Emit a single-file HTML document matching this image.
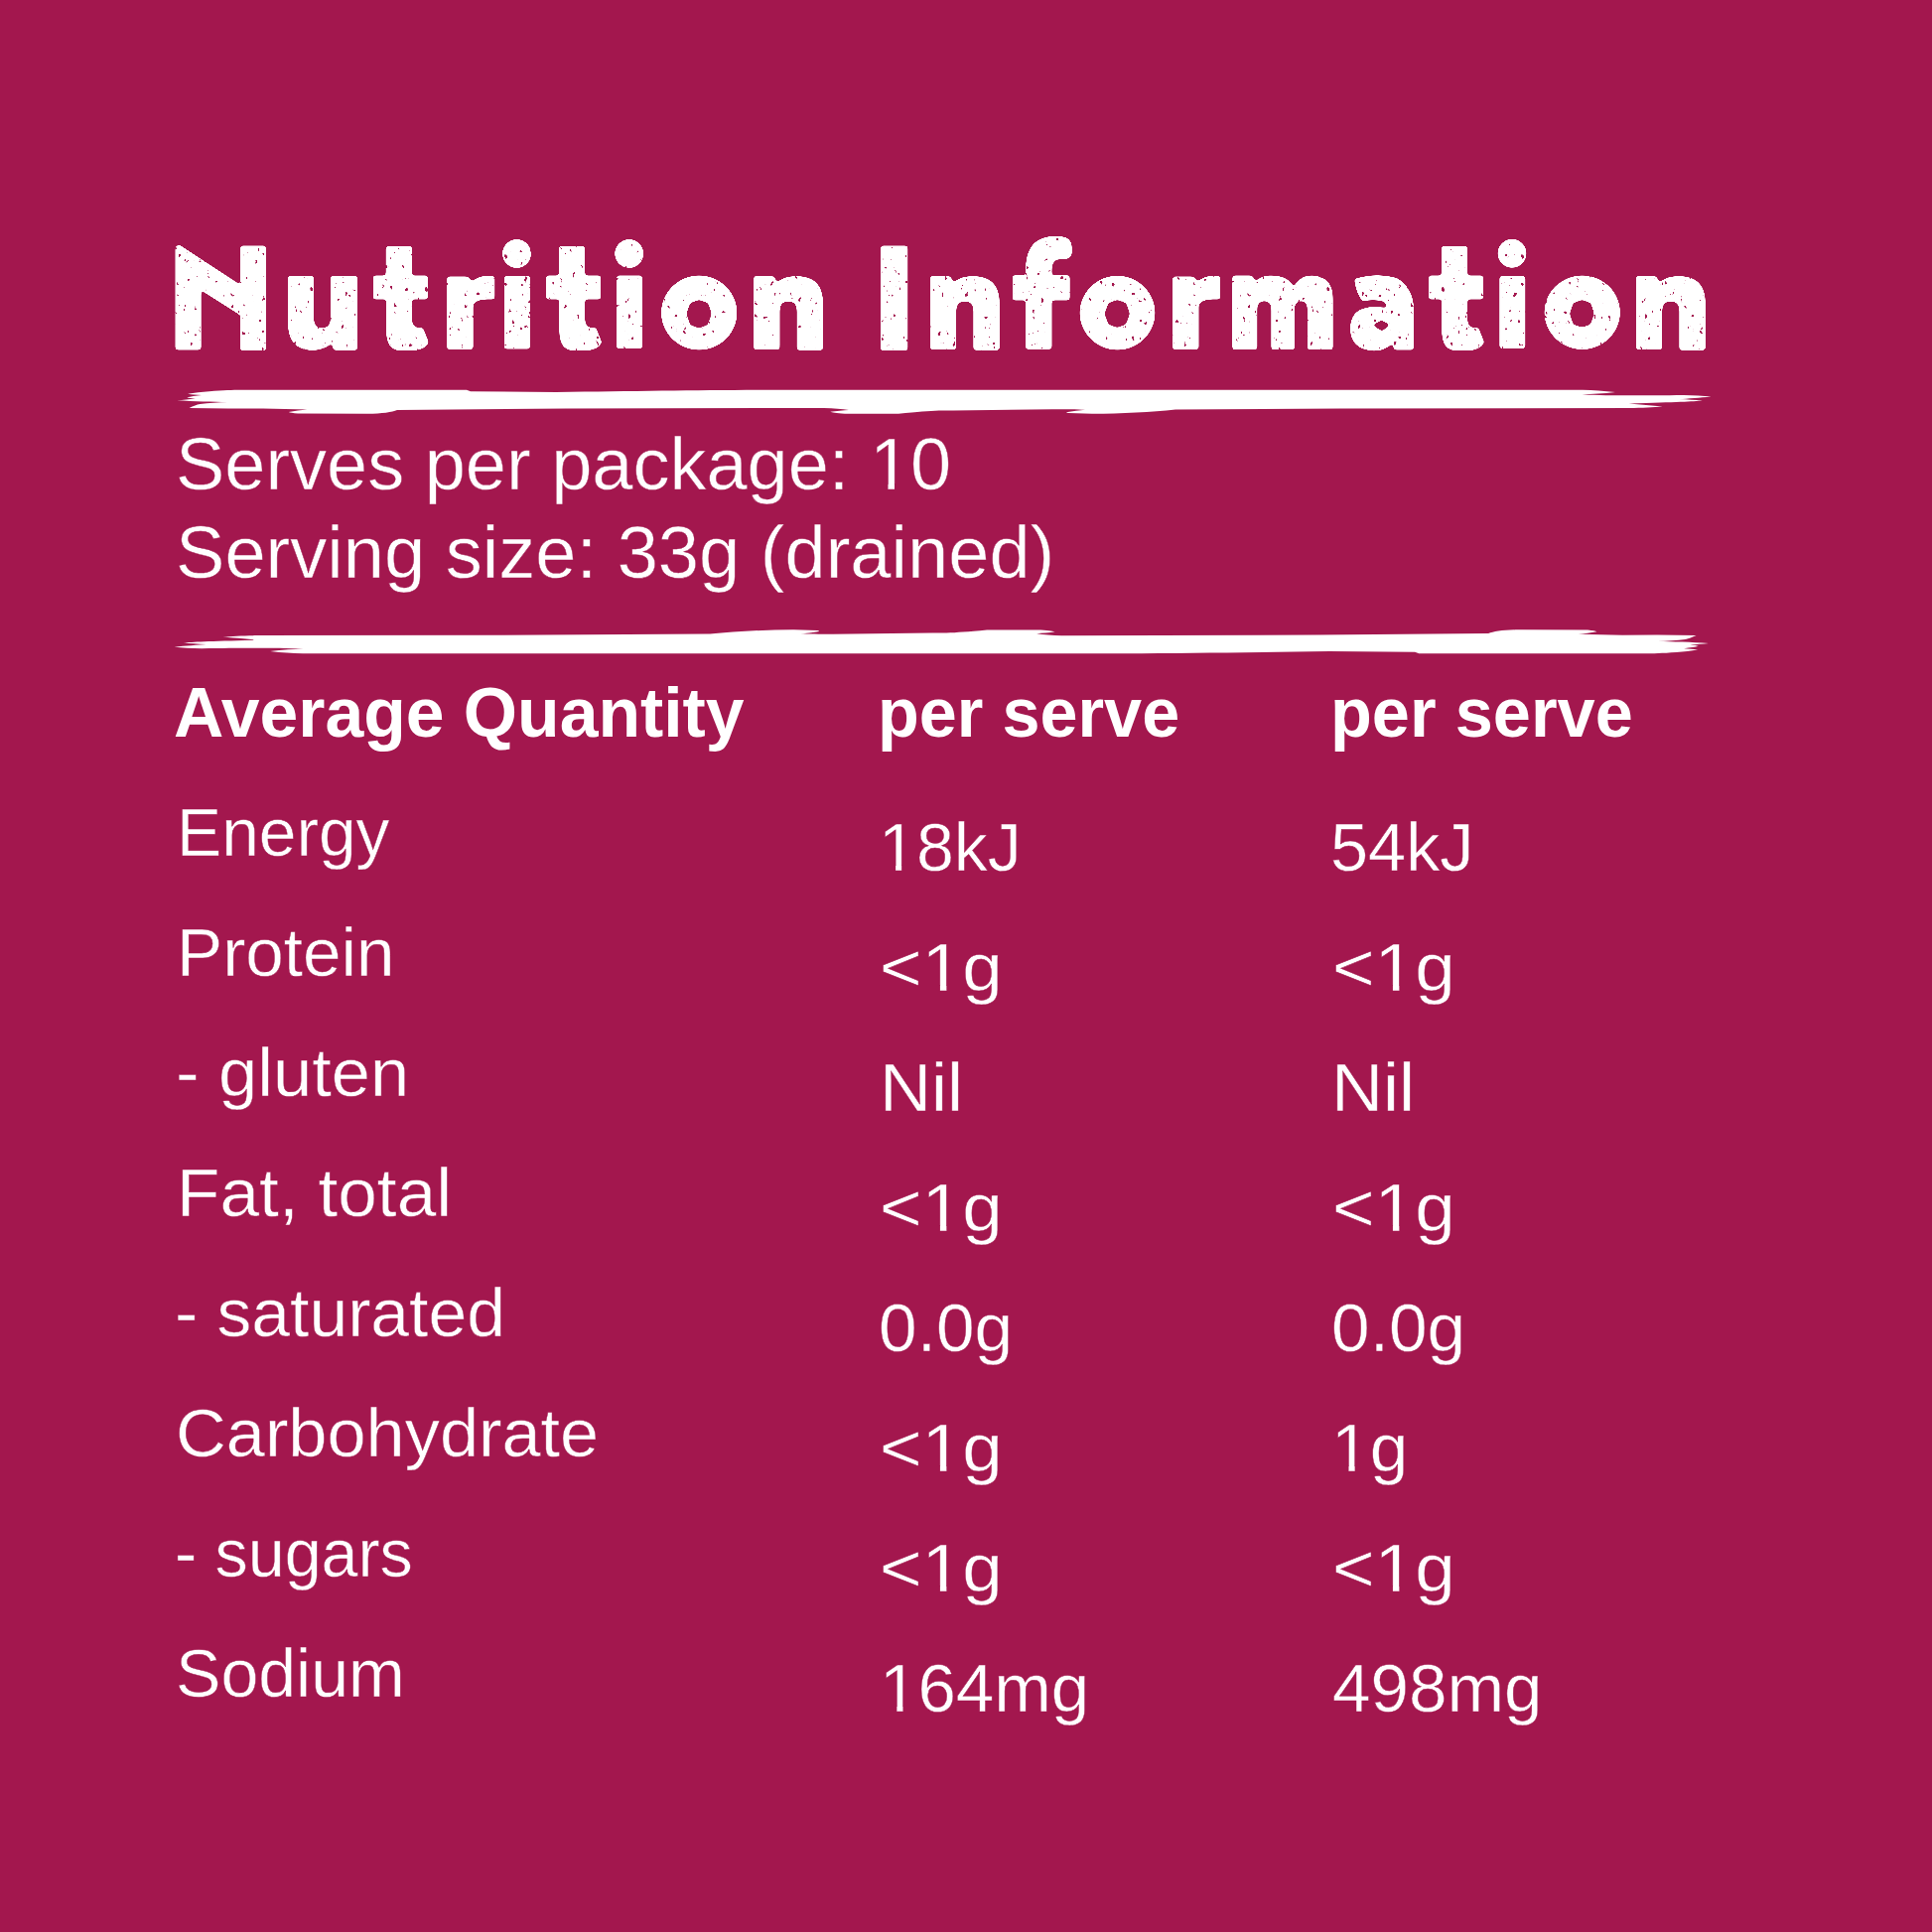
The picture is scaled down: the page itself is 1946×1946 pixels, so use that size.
<!DOCTYPE html>
<html><head><meta charset="utf-8">
<style>
html,body{margin:0;padding:0;}
body{width:1946px;height:1946px;background:#A3174E;position:relative;overflow:hidden;font-family:"Liberation Sans",sans-serif;color:#fff;}
.t{position:absolute;white-space:pre;line-height:1;transform-origin:0 0;-webkit-text-stroke:0.45px #A3174E;}
.t.b{-webkit-text-stroke:0;}
.b{font-weight:700;}
.one{display:inline-block;clip-path:polygon(0 0,100% 0,100% 76%,61.1% 76%,61.1% 100%,45.2% 100%,45.2% 76%,0 76%);}
svg{position:absolute;left:0;top:0;}
</style></head><body>
<svg width="1946" height="1946" viewBox="0 0 1946 1946">
<defs>
<filter id="rnd" color-interpolation-filters="sRGB" x="0" y="0" width="1946" height="1946" filterUnits="userSpaceOnUse">
<feGaussianBlur in="SourceGraphic" stdDeviation="1.6" result="b"/>
<feComponentTransfer in="b" result="shape"><feFuncA type="linear" slope="12" intercept="-5.5"/></feComponentTransfer>
<feTurbulence type="fractalNoise" baseFrequency="0.25 0.18" numOctaves="2" seed="7" result="noise"/>
<feColorMatrix in="noise" type="matrix" values="0 0 0 0 0  0 0 0 0 0  0 0 0 0 0  -30 0 0 0 22.6" result="keep"/>
<feComposite in="shape" in2="keep" operator="in"/>
</filter>
<path id="brush" d="M178.2,403.2 C185,402.6 190,402.2 196.8,401.4 C193,401.2 190,401 188.3,400.3 C192,399.4 197,398.6 203,397.9 C198,397.6 193,397.4 189.1,396.8 C196,395.5 203,394.6 210.8,394.2 C225,393.2 235,392.9 242,392.8 L470,392.8 L474,394.3 L560,395 C640,394 700,393.2 767,392.8 L1594,392.8 C1605,393 1615,393.8 1627,395.1 C1615,396.5 1603,397 1593.6,397.5 C1620,398.5 1650,398.6 1696,397.9 C1706,398 1715,398.6 1723.6,399.4 C1712,400.6 1700,401.4 1691.4,402.1 C1700,402.6 1708,403 1714.7,403.6 C1705,404.6 1690,405.2 1640.6,406.5 C1652,407.6 1664,408.6 1674.7,409.5 C1665,410.4 1655,410.9 1640,411 L1350,411.5 L1184,412.5 C1160,415 1130,416.8 1100,416.8 L1076,416 C1075,415.8 1074.5,415.5 1074,415.2 C1080,414.2 1088,413.2 1093,412.8 C1085,412.5 1075,412.3 1060,412.3 L960,413.5 L945.8,413.6 C935,414.2 925,414.8 905,416.7 L851,416.7 C842,416 838,415.5 836.3,414.8 C842,413.8 850,413.2 855,412.9 C848,411.8 840,411.2 830,410.9 L570,411.5 L400,413 C395,415 385,416.8 370,416.8 L300,416.5 C295,416 292,415.5 290.8,414.9 C297,413.8 303,413 309.4,412.6 C295,412 280,411.6 265,411.4 L230,411.6 L190.6,411 C195,409 198,407.8 201.5,407.1 C210,406 220,405.3 229.5,405 C215,404.8 195,404.2 178.2,403.2 Z"/>
</defs>
<g fill="#fff" filter="url(#rnd)">
<!-- N -->
<path d="M176.5,250 Q177,246.5 181,246.8 L242,286.8 V247.5 H268 V353 H242 V317.5 L202.6,292.5 V352.5 H176.5 Z"/>
<!-- u -->
<path d="M290,278 H316 V320 Q316,330.5 324.5,330.5 Q333,330.5 333,320 V278 H360 V352.7 H336 L334,346 Q326,353 314,353 Q290,352 290,326 Z"/>
<!-- t -->
<path id="t1" d="M388.6,248 H415 V277.6 H431 V301.4 H415 V323 Q416,330 421,330 H426 L432,345 Q428,353.2 414,353.2 H402 Q389,352 389,333 V301.4 H375.7 V277.6 H388.6 Z"/>
<!-- r -->
<path id="r1" d="M450.2,278.6 H471 L476,283.5 Q481,278 490,278 H498.4 V301.4 H490 Q478,302 476.6,307 V352 H450.2 Z"/>
<!-- i -->
<circle cx="520.5" cy="255.4" r="14.5"/>
<path d="M507.7,278 H534 V351.6 H507.7 Z"/>
<use href="#t1" x="174.3"/>
<circle cx="633.7" cy="255.4" r="14.5"/>
<path d="M621,277.6 H647 V351 H621 Z"/>
<!-- o -->
<path fill-rule="evenodd" d="M704.2,277.5 A38.2,37.5 0 1 1 704.19,277.5 Z M704,302 L713.2,305.3 L716.8,316 L712.8,327.2 L704,330.5 L695.2,327.2 L691.4,316 L695.2,305.3 Z"/>
<!-- n -->
<path id="n1" d="M759.2,278 H779 L783,284 Q790,278 802,278 Q829,278 829,305 V352.7 H802.6 V312 Q802.6,303.5 794,303.5 Q785.5,303.5 785.5,312 V352.2 H759.2 Z"/>
<!-- I -->
<path d="M887,247.6 H914.4 V353.2 H887 Z"/>
<use href="#n1" x="177.8"/>
<!-- f -->
<path d="M1033,351.8 V272 Q1033,238 1062,238 H1068 Q1080,239 1079.7,250 V256 Q1078,261.2 1072,261.2 H1066 Q1059.5,262 1059.5,272 V277.3 H1077.6 V302.6 H1059.5 V351.8 Z M1033,277.3 V302.6 H1019.7 V277.3 Z"/>
<!-- o2 -->
<path fill-rule="evenodd" d="M1125.5,277.8 A38,37.3 0 1 1 1125.49,277.8 Z M1125.3,301.9 L1134.3,305.2 L1138,316 L1134,326.8 L1125.3,329.9 L1116.5,326.8 L1112.5,316 L1116.5,305.2 Z"/>
<use href="#r1" x="730.9"/>
<!-- m -->
<path d="M1241.3,277.5 H1261 L1265,283 Q1270,277.5 1280,277.5 Q1298,277.5 1303,289 Q1309,277.5 1320,277.5 Q1342.6,277.5 1342.6,300 V352.2 H1316.7 V311 Q1316.7,303.3 1310.5,303.3 Q1304,303.3 1304,311 V352.2 H1280.4 V311 Q1280.4,303.3 1273.4,303.3 Q1266.4,303.3 1266.4,311 V352.2 H1241.3 Z"/>
<!-- a -->
<path fill-rule="evenodd" d="M1364,281 Q1387,274 1407,280 Q1424,290 1424,312 V352.5 H1404 L1402.7,346 Q1395,353.5 1383.5,353.4 Q1360,352 1360,331 Q1360,309 1385,309 Q1394,309 1397.5,310.5 L1394.7,304 Q1386,301 1372.4,303.5 Q1366,296 1364,281 Z M1382.5,327.5 L1391.5,322.4 L1400,327.3 L1392,333.4 Z"/>
<use href="#t1" x="1063.2"/>
<circle cx="1523" cy="255.3" r="14.5"/>
<path d="M1510.4,278 H1536.4 V351 H1510.4 Z"/>
<!-- o3 -->
<path fill-rule="evenodd" d="M1593.7,277.4 A38.2,37.3 0 1 1 1593.69,277.4 Z M1593.5,301.9 L1602.3,305.2 L1605.8,316 L1602,326.8 L1593.5,329.7 L1584.7,326.8 L1581,316 L1584.7,305.2 Z"/>
<use href="#n1" x="888.8"/>
</g>
<g fill="#fff">
<use href="#brush"/>
<use href="#brush" transform="translate(1899.2,1051.1) rotate(180)"/>
</g>
</svg>

<div class="t" style="left:176.94px;top:430.00px;font-size:75px;transform:scaleX(0.9861)">Serves per package: <span class="one">1</span>0</div>
<div class="t" style="left:176.94px;top:518.50px;font-size:75px;transform:scaleX(0.9877)">Serving size: 33g (drained)</div>
<div class="t b" style="left:175.01px;top:683.00px;font-size:70px;transform:scaleX(0.9957)">Average Quantity</div>
<div class="t b" style="left:884.09px;top:682.70px;font-size:70px;transform:scaleX(0.9770)">per serve</div>
<div class="t b" style="left:1340.08px;top:682.70px;font-size:70px;transform:scaleX(0.9790)">per serve</div>
<div class="t" style="left:178.02px;top:803.50px;font-size:68px;transform:scaleX(0.9952)">Energy</div>
<div class="t" style="left:177.91px;top:924.50px;font-size:68px;transform:scaleX(1.0188)">Protein</div>
<div class="t" style="left:176.89px;top:1045.50px;font-size:68px;transform:scaleX(1.0373)">- gluten</div>
<div class="t" style="left:177.66px;top:1166.50px;font-size:68px;transform:scaleX(1.0473)">Fat, total</div>
<div class="t" style="left:176.03px;top:1287.50px;font-size:68px;transform:scaleX(1.0242)">- saturated</div>
<div class="t" style="left:176.70px;top:1408.50px;font-size:68px;transform:scaleX(1.0345)">Carbohydrate</div>
<div class="t" style="left:176.37px;top:1529.50px;font-size:68px;transform:scaleX(0.9763)">- sugars</div>
<div class="t" style="left:176.80px;top:1650.50px;font-size:68px;transform:scaleX(1.0009)">Sodium</div>
<div class="t" style="left:884.79px;top:819.40px;font-size:68px;transform:scaleX(1.0015)"><span class="one">1</span>8kJ</div>
<div class="t" style="left:886.48px;top:940.40px;font-size:68px;transform:scaleX(1.0722)">&lt;<span class="one">1</span>g</div>
<div class="t" style="left:885.50px;top:1061.40px;font-size:68px;transform:scaleX(1.0600)">Nil</div>
<div class="t" style="left:886.48px;top:1182.40px;font-size:68px;transform:scaleX(1.0722)">&lt;<span class="one">1</span>g</div>
<div class="t" style="left:885.46px;top:1303.40px;font-size:68px;transform:scaleX(1.0214)">0.0g</div>
<div class="t" style="left:886.48px;top:1424.40px;font-size:68px;transform:scaleX(1.0722)">&lt;<span class="one">1</span>g</div>
<div class="t" style="left:886.48px;top:1545.40px;font-size:68px;transform:scaleX(1.0722)">&lt;<span class="one">1</span>g</div>
<div class="t" style="left:885.61px;top:1666.40px;font-size:68px;transform:scaleX(1.0157)"><span class="one">1</span>64mg</div>
<div class="t" style="left:1339.88px;top:819.40px;font-size:68px;transform:scaleX(1.0066)">54kJ</div>
<div class="t" style="left:1342.18px;top:940.40px;font-size:68px;transform:scaleX(1.0722)">&lt;<span class="one">1</span>g</div>
<div class="t" style="left:1341.20px;top:1061.40px;font-size:68px;transform:scaleX(1.0600)">Nil</div>
<div class="t" style="left:1342.18px;top:1182.40px;font-size:68px;transform:scaleX(1.0722)">&lt;<span class="one">1</span>g</div>
<div class="t" style="left:1341.16px;top:1303.40px;font-size:68px;transform:scaleX(1.0214)">0.0g</div>
<div class="t" style="left:1341.36px;top:1424.40px;font-size:68px;transform:scaleX(1.0227)"><span class="one">1</span>g</div>
<div class="t" style="left:1342.18px;top:1545.40px;font-size:68px;transform:scaleX(1.0722)">&lt;<span class="one">1</span>g</div>
<div class="t" style="left:1341.78px;top:1666.40px;font-size:68px;transform:scaleX(1.0172)">498mg</div>
</body></html>
